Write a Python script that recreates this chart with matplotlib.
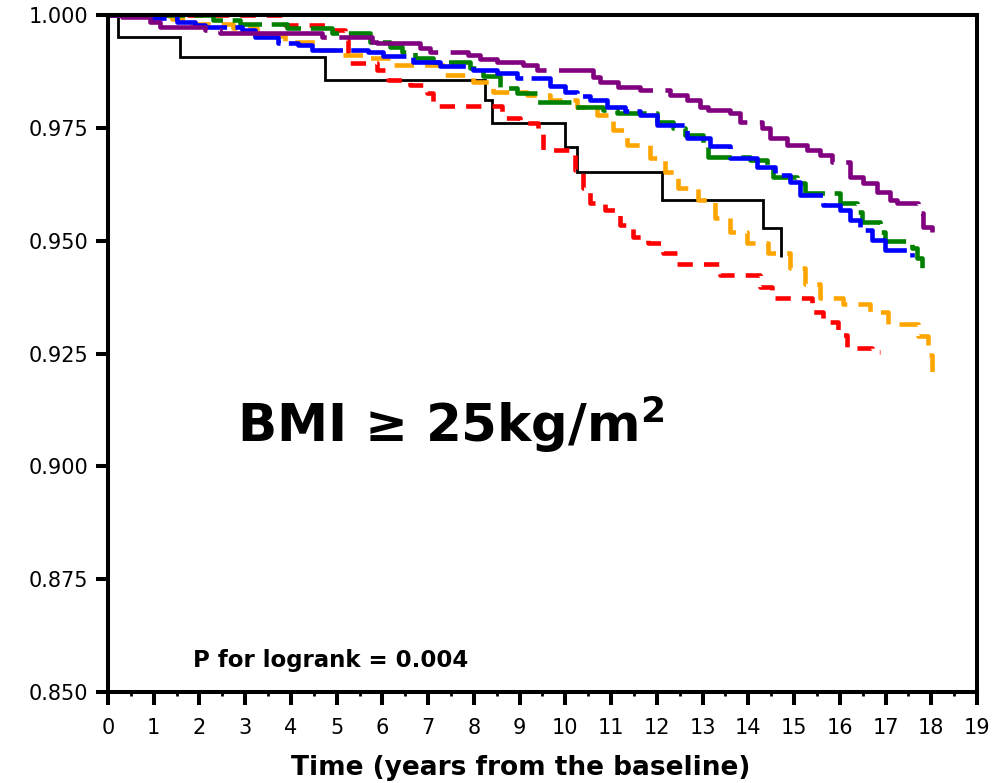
# Kaplan-Meier style curves, BMI >= 25 subgroup
import matplotlib
matplotlib.use("Agg")
import matplotlib.pyplot as plt
from matplotlib.ticker import MultipleLocator, FormatStrFormatter

plt.rcParams['font.family'] = ['DejaVu Sans']
plt.rcParams['mathtext.fontset'] = 'dejavusans'
plt.rcParams['lines.scale_dashes'] = False

############################################################
#           DATA
############################################################

# time (years) at which each group's survival steps down, and the new value
black_t = [0, 0.22, 1.57, 4.74, 8.24, 8.40, 9.99, 10.25, 12.11, 14.32, 14.71]
black_s = [1.000, 0.9951, 0.9907, 0.9856, 0.9812, 0.9761, 0.9707, 0.9652, 0.9590, 0.9528, 0.9464]

red_t = [0, 3.87, 4.79, 5.18, 5.25, 5.29, 5.88, 6.12, 6.60, 6.97, 7.11, 8.61, 9.01, 9.40,
         9.51, 10.21, 10.38, 10.54, 10.87, 11.19, 11.48, 11.81, 12.13, 12.44, 13.38, 14.25,
         14.52, 15.39, 15.63, 15.96, 16.16, 16.70, 16.88]
red_s = [1.000, 0.9978, 0.9967, 0.9945, 0.9916, 0.9894, 0.9878, 0.9856, 0.9845, 0.9827,
         0.9798, 0.9772, 0.9761, 0.9739, 0.9701, 0.9657, 0.9617, 0.9583, 0.9568, 0.9535,
         0.9508, 0.9495, 0.9473, 0.9448, 0.9424, 0.9397, 0.9373, 0.9342, 0.9320, 0.9291,
         0.9262, 0.9253, 0.9253]

orange_t = [0, 0.70, 1.40, 1.84, 2.73, 3.26, 3.87, 4.63, 4.96, 5.66, 6.17, 7.32, 7.98,
            8.42, 9.16, 9.66, 10.25, 10.69, 11.04, 11.35, 11.85, 12.18, 12.46, 12.90,
            13.27, 13.60, 13.97, 14.43, 14.91, 15.24, 15.57, 16.07, 16.66, 17.05, 17.71,
            17.93, 18.01]
orange_s = [1.000, 0.9998, 0.9991, 0.9980, 0.9971, 0.9954, 0.9940, 0.9922, 0.9911,
            0.9905, 0.9889, 0.9867, 0.9852, 0.9829, 0.9823, 0.9812, 0.9796, 0.9778,
            0.9745, 0.9712, 0.9683, 0.9652, 0.9617, 0.9590, 0.9550, 0.9519, 0.9495,
            0.9473, 0.9439, 0.9404, 0.9373, 0.9360, 0.9342, 0.9315, 0.9289, 0.9247,
            0.9207]

green_t = [0, 2.30, 2.89, 3.91, 4.90, 5.73, 6.17, 6.43, 6.71, 7.11, 7.91, 8.20, 8.57,
           8.94, 9.38, 10.17, 10.82, 11.13, 12.00, 12.35, 12.61, 13.01, 13.12, 14.04,
           14.41, 14.54, 15.06, 15.24, 16.00, 16.38, 16.48, 16.88, 16.99, 17.58, 17.69,
           17.80]
green_s = [1.000, 0.9989, 0.9980, 0.9971, 0.9960, 0.9940, 0.9929, 0.9918, 0.9905, 0.9896,
           0.9883, 0.9865, 0.9838, 0.9827, 0.9807, 0.9796, 0.9790, 0.9783, 0.9763, 0.9750,
           0.9734, 0.9712, 0.9685, 0.9679, 0.9661, 0.9641, 0.9628, 0.9606, 0.9583, 0.9563,
           0.9541, 0.9519, 0.9499, 0.9484, 0.9462, 0.9435]

blue_t = [0, 0.96, 1.51, 1.90, 2.12, 2.93, 3.21, 3.72, 4.15, 4.46, 5.68, 6.01, 6.67, 7.26,
          7.98, 8.50, 8.94, 9.66, 9.99, 10.25, 10.54, 10.91, 11.30, 11.63, 12.00, 12.66,
          13.16, 13.60, 14.19, 14.58, 14.91, 15.13, 15.63, 16.00, 16.22, 16.44, 16.70,
          16.99, 17.58]
blue_s = [1.000, 0.9993, 0.9985, 0.9978, 0.9973, 0.9967, 0.9951, 0.9938, 0.9934, 0.9922,
          0.9918, 0.9909, 0.9896, 0.9887, 0.9878, 0.9872, 0.9860, 0.9843, 0.9829, 0.9821,
          0.9812, 0.9796, 0.9787, 0.9778, 0.9756, 0.9727, 0.9710, 0.9683, 0.9663, 0.9645,
          0.9630, 0.9601, 0.9579, 0.9568, 0.9546, 0.9524, 0.9501, 0.9479, 0.9464]

purple_t = [0, 0.31, 0.92, 1.14, 2.12, 2.45, 4.68, 5.77, 5.88, 6.82, 7.04, 7.87, 8.13,
            8.50, 9.07, 9.38, 10.60, 10.76, 11.15, 11.63, 12.29, 12.66, 12.95, 13.12,
            13.60, 13.82, 14.30, 14.47, 14.84, 15.28, 15.57, 15.83, 16.22, 16.51, 16.81,
            17.10, 17.25, 17.71, 17.82, 18.01]
purple_s = [1.000, 0.9996, 0.9985, 0.9973, 0.9967, 0.9960, 0.9951, 0.9940, 0.9938, 0.9927,
            0.9918, 0.9911, 0.9903, 0.9896, 0.9889, 0.9878, 0.9863, 0.9852, 0.9840, 0.9834,
            0.9823, 0.9812, 0.9796, 0.9790, 0.9783, 0.9763, 0.9750, 0.9727, 0.9712, 0.9701,
            0.9690, 0.9674, 0.9641, 0.9628, 0.9608, 0.9590, 0.9583, 0.9561, 0.9530, 0.9519]

x_ticks = list(range(0, 20))
y_ticks = [0.850, 0.875, 0.900, 0.925, 0.950, 0.975, 1.000]

title_text = "BMI \u2265 25kg/m$^{\\mathbf{2}}$"
p_text = "P for logrank = 0.004"
x_label = "Time (years from the baseline)"

############################################################
#           PLOT
############################################################

fig = plt.figure(figsize=(10.03, 7.83), dpi=100)
ax = fig.add_axes([108/1003, 1 - 692/783, (977 - 108)/1003, (692 - 15)/783])

# group curves: (times, survival, colour, linewidth, dash pattern in points)
groups = [
    (black_t, black_s, 'black', 2.0, None),
    (red_t, red_s, '#ff0000', 3.3, (11, 8)),
    (orange_t, orange_s, '#ffa500', 3.3, (14, 8)),
    (green_t, green_s, '#008000', 3.3, (24, 7)),
    (blue_t, blue_s, '#0000ff', 3.3, (44, 6)),
    (purple_t, purple_s, '#800080', 3.3, (82, 9)),
]
for t, s, col, lw, dash in groups:
    line, = ax.step(t, s, where='post', color=col, lw=lw, clip_on=False,
                    solid_joinstyle='miter', solid_capstyle='butt')
    if dash is not None:
        line.set_dashes(dash)
        line.set_dash_capstyle('butt')

# axes
ax.set_xlim(0, 19)
ax.set_ylim(0.85, 1.0)
ax.set_xticks(x_ticks)
ax.set_yticks(y_ticks)
ax.xaxis.set_minor_locator(MultipleLocator(0.5))
ax.yaxis.set_major_formatter(FormatStrFormatter('%.3f'))
for sp in ax.spines.values():
    sp.set_linewidth(2.9)
ax.tick_params(axis='both', which='major', direction='out', length=9, width=2.9,
               labelsize=15)
ax.tick_params(axis='x', which='major', pad=10)
ax.tick_params(axis='y', which='major', pad=5)
ax.tick_params(axis='x', which='minor', direction='out', length=3, width=2.0)

# text
fig.text(237/1003, 1 - 442/783, title_text, fontsize=37, fontweight='bold',
         ha='left', va='baseline')
fig.text(193/1003, 1 - 667/783, p_text, fontsize=16.5, fontweight='bold',
         ha='left', va='baseline')
fig.text(521/1003, 1 - 775/783, x_label, fontsize=19, fontweight='bold',
         ha='center', va='baseline')

fig.savefig("out.png", dpi=100)
